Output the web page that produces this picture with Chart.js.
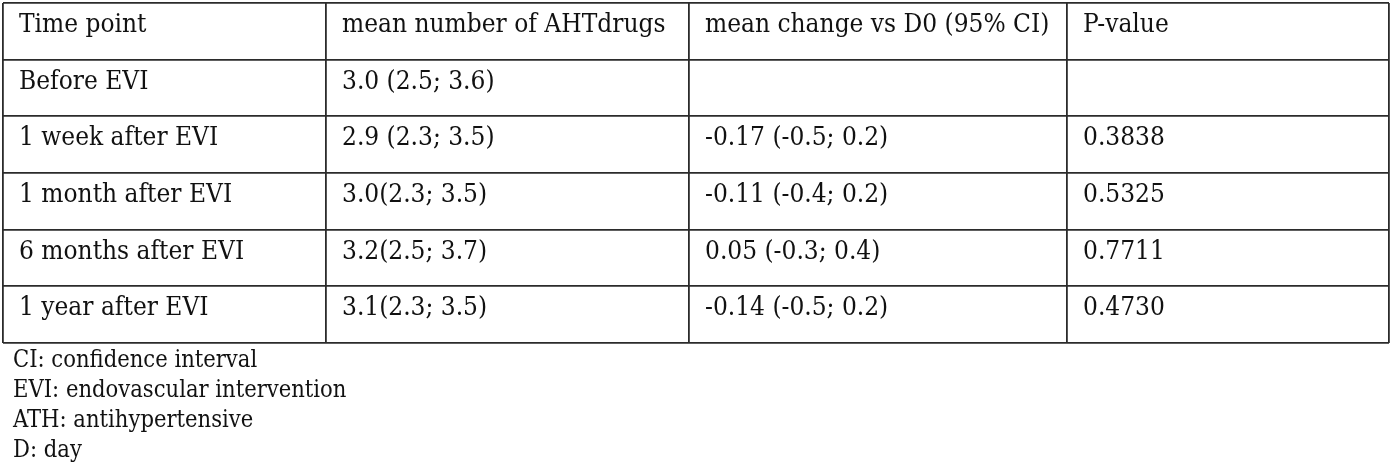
<!DOCTYPE html>
<html>
<head>
<meta charset="utf-8">
<script src="https://cdn.jsdelivr.net/npm/chart.js@4.4.1/dist/chart.umd.min.js"></script>
<style>
  html, body { margin: 0; padding: 0; background: #fff; }
  #wrap { width: 1393px; height: 466px; position: relative; }
</style>
</head>
<body>
<div id="wrap"><canvas id="tabla"></canvas></div>
<script>
// Datos de la tabla
const headers = ['Time point', 'mean number of AHTdrugs', 'mean change vs D0 (95% CI)', 'P-value'];
const timePoints = ['Before EVI', '1 week after EVI', '1 month after EVI', '6 months after EVI', '1 year after EVI'];
const meanDrugs = ['3.0 (2.5; 3.6)', '2.9 (2.3; 3.5)', '3.0(2.3; 3.5)', '3.2(2.5; 3.7)', '3.1(2.3; 3.5)'];
const meanChange = ['', '-0.17 (-0.5; 0.2)', '-0.11 (-0.4; 0.2)', '0.05 (-0.3; 0.4)', '-0.14 (-0.5; 0.2)'];
const pValues = ['', '0.3838', '0.5325', '0.7711', '0.4730'];
const footnotes = ['CI: confidence interval', 'EVI: endovascular intervention', 'ATH: antihypertensive', 'D: day'];

// Bordes de columna en unidades del eje x
const colEdges = [0, 323, 686, 1064, 1386];
const fontFamily = '"DejaVu Serif Condensed", "DejaVu Serif", serif';

const columns = [timePoints, meanDrugs, meanChange, pValues];
const nRows = timePoints.length + 1;

// Plugin que escribe el texto de cada celda usando las escalas
const cellText = {
  id: 'cellText',
  afterDraw(chart) {
    const ctx = chart.ctx;
    const xs = chart.scales.x;
    const ys = chart.scales.y;
    ctx.save();
    ctx.fillStyle = '#111';
    ctx.textBaseline = 'alphabetic';
    ctx.textAlign = 'left';
    ctx.font = '26px ' + fontFamily;
    headers.forEach((h, c) => {
      ctx.fillText(h, xs.getPixelForValue(colEdges[c]) + 16, ys.getPixelForValue(0) + 29);
    });
    columns.forEach((col, c) => {
      col.forEach((txt, r) => {
        if (!txt) return;
        ctx.fillText(txt, xs.getPixelForValue(colEdges[c]) + 16, ys.getPixelForValue(r + 1) + 29);
      });
    });
    // Notas al pie
    ctx.font = '23.5px ' + fontFamily;
    footnotes.forEach((f, i) => {
      ctx.fillText(f, 13, chart.chartArea.bottom + 24 + i * 30);
    });
    ctx.restore();
  }
};

new Chart(document.getElementById('tabla'), {
  type: 'scatter',
  data: { datasets: [{ data: [] }] },
  options: {
    responsive: true,
    maintainAspectRatio: false,
    animation: false,
    layout: { padding: { left: 3, right: 4, top: 3, bottom: 123 } },
    plugins: { legend: { display: false }, tooltip: { enabled: false } },
    scales: {
      x: {
        type: 'linear',
        min: colEdges[0],
        max: colEdges[colEdges.length - 1],
        afterBuildTicks: scale => { scale.ticks = colEdges.map(v => ({ value: v })); },
        ticks: { display: false },
        grid: { color: '#2b2b2b', lineWidth: 1.8, drawTicks: false },
        border: { display: false }
      },
      y: {
        type: 'linear',
        reverse: true,
        min: 0,
        max: nRows,
        ticks: { display: false, stepSize: 1 },
        grid: { color: '#2b2b2b', lineWidth: 1.8, drawTicks: false },
        border: { display: false }
      }
    }
  },
  plugins: [cellText]
});
</script>
</body>
</html>
